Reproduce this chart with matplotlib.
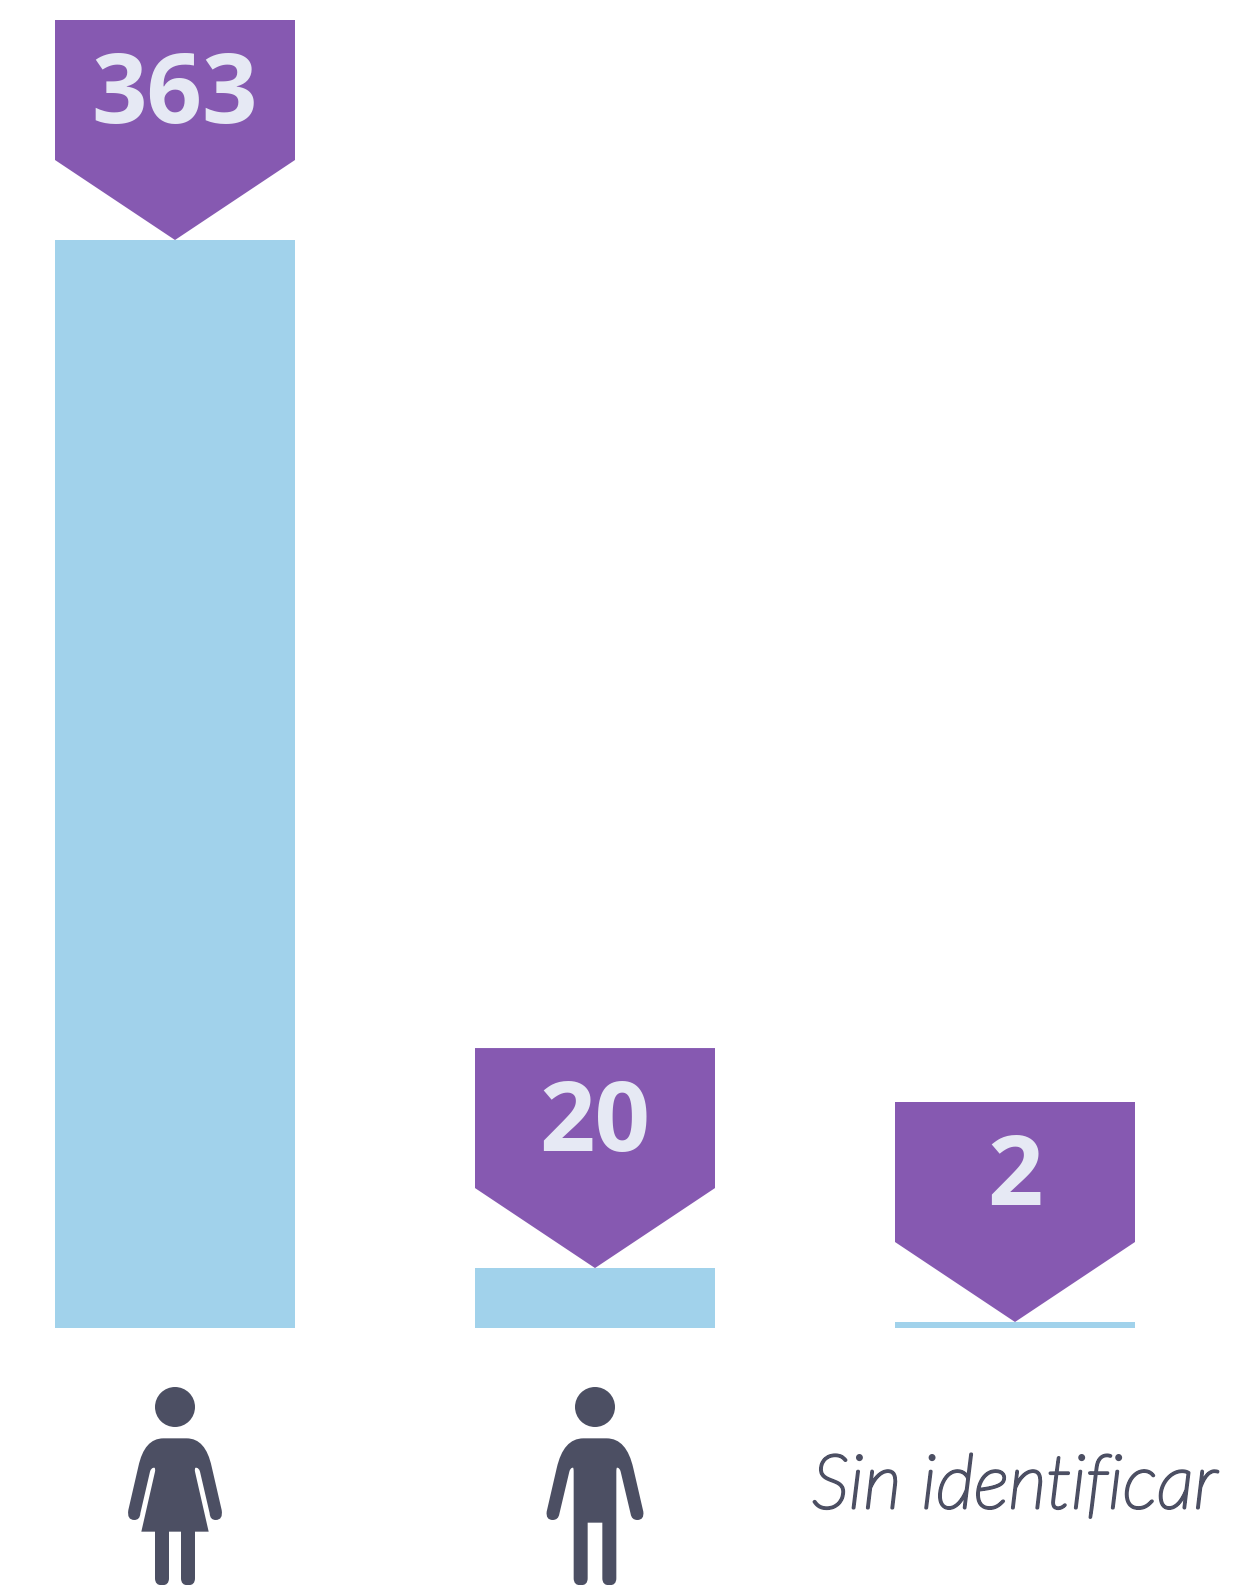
import matplotlib
matplotlib.use("Agg")
import matplotlib.pyplot as plt
import matplotlib.patheffects as pe
from matplotlib.patches import Circle, PathPatch, Polygon
from matplotlib.path import Path

categories = ["Mujer", "Hombre", "Sin identificar"]
values = [363, 20, 2]
value_labels = ["363", "20", "2"]

BLUE = "#a1d2eb"
PURPLE = "#8659b1"
DARK = "#4c4f63"
LABEL = "#e6e9f4"

W, H = 1255, 1585
BASE_PX = 1328          # pixel row of the bars' baseline
PX_PER_UNIT = 1088 / 363
FIRST_PX, STEP_PX = 175, 420

fig = plt.figure(figsize=(W / 100, H / 100), dpi=100)
ax = fig.add_axes([0, 0, 1, 1])
ax.set_xlim(-FIRST_PX / STEP_PX, (W - FIRST_PX) / STEP_PX)
ax.set_ylim(-(H - BASE_PX) / PX_PER_UNIT, BASE_PX / PX_PER_UNIT)
ax.axis("off")

bar_w = 240 / STEP_PX
xs = list(range(len(values)))
ax.bar(xs, values, width=bar_w, color=BLUE, linewidth=0)

# pointer label sitting on top of each bar
for x, v, lab in zip(xs, values, value_labels):
    shoulder = v + 80 / PX_PER_UNIT
    top = v + 220 / PX_PER_UNIT
    ax.add_patch(Polygon([(x - bar_w / 2, top), (x + bar_w / 2, top),
                          (x + bar_w / 2, shoulder), (x, v),
                          (x - bar_w / 2, shoulder)],
                         closed=True, fc=PURPLE, ec="none"))
    ax.text(x, v + 117 / PX_PER_UNIT, lab, ha="center", va="baseline",
            fontsize=70, fontweight="bold", family="Open Sans", color=LABEL)

# category icons are drawn in pixel coordinates on a second axes
ov = fig.add_axes([0, 0, 1, 1])
ov.set_xlim(0, W)
ov.set_ylim(H, 0)
ov.axis("off")
ov.patch.set_alpha(0)

M, L, Q, C = Path.MOVETO, Path.LINETO, Path.CURVE3, Path.CLOSEPOLY

woman = [(M, 0, 235), (L, 35, 235), (Q, 92, 235), (Q, 110, 320), (L, 140, 450),
         (Q, 145, 480), (Q, 122, 480), (Q, 105, 480), (Q, 104, 460), (L, 75, 335),
         (Q, 72, 323), (Q, 62, 323), (Q, 58, 325), (Q, 60, 335), (L, 101, 515),
         (L, 60, 515), (L, 60, 655), (Q, 60, 676), (Q, 39, 676), (Q, 18, 676),
         (Q, 18, 655), (L, 18, 515), (L, 0, 515)]
man = [(M, 0, 235), (L, 35, 235), (Q, 95, 235), (Q, 115, 325), (L, 145, 455),
       (Q, 148, 480), (Q, 127, 480), (Q, 110, 480), (Q, 107, 462), (L, 77, 335),
       (Q, 74, 323), (Q, 66, 323), (Q, 64, 323), (Q, 64, 335), (L, 64, 655),
       (Q, 64, 676), (Q, 43, 676), (Q, 22, 676), (Q, 22, 655), (L, 22, 488),
       (L, 0, 488)]


def draw_figure(cx, half):
    codes = [c for c, _, _ in half]
    verts = [(cx + d / 3, 1360 + y / 3) for _, d, y in half]
    back = half[::-1]
    # walk the left side back up, curve control points stay in order
    for i in range(1, len(back)):
        code = half[len(half) - i][0]
        codes.append(code)
        verts.append((cx - back[i][1] / 3, 1360 + back[i][2] / 3))
    codes.append(C)
    verts.append(verts[0])
    ov.add_patch(PathPatch(Path(verts, codes), fc=DARK, ec="none"))
    ov.add_patch(Circle((cx, 1407), 20, fc=DARK, ec="none"))


draw_figure(FIRST_PX, woman)
draw_figure(FIRST_PX + STEP_PX, man)

# this Lato weight is a hairline, so thicken it with a stroke
ov.text(FIRST_PX + 2 * STEP_PX, 1508, categories[2], ha="center", va="baseline",
        fontsize=54, fontweight="light", style="italic", family="Lato",
        color=DARK,
        path_effects=[pe.withStroke(linewidth=2.2, foreground=DARK)])

fig.savefig("out.png", dpi=100)
